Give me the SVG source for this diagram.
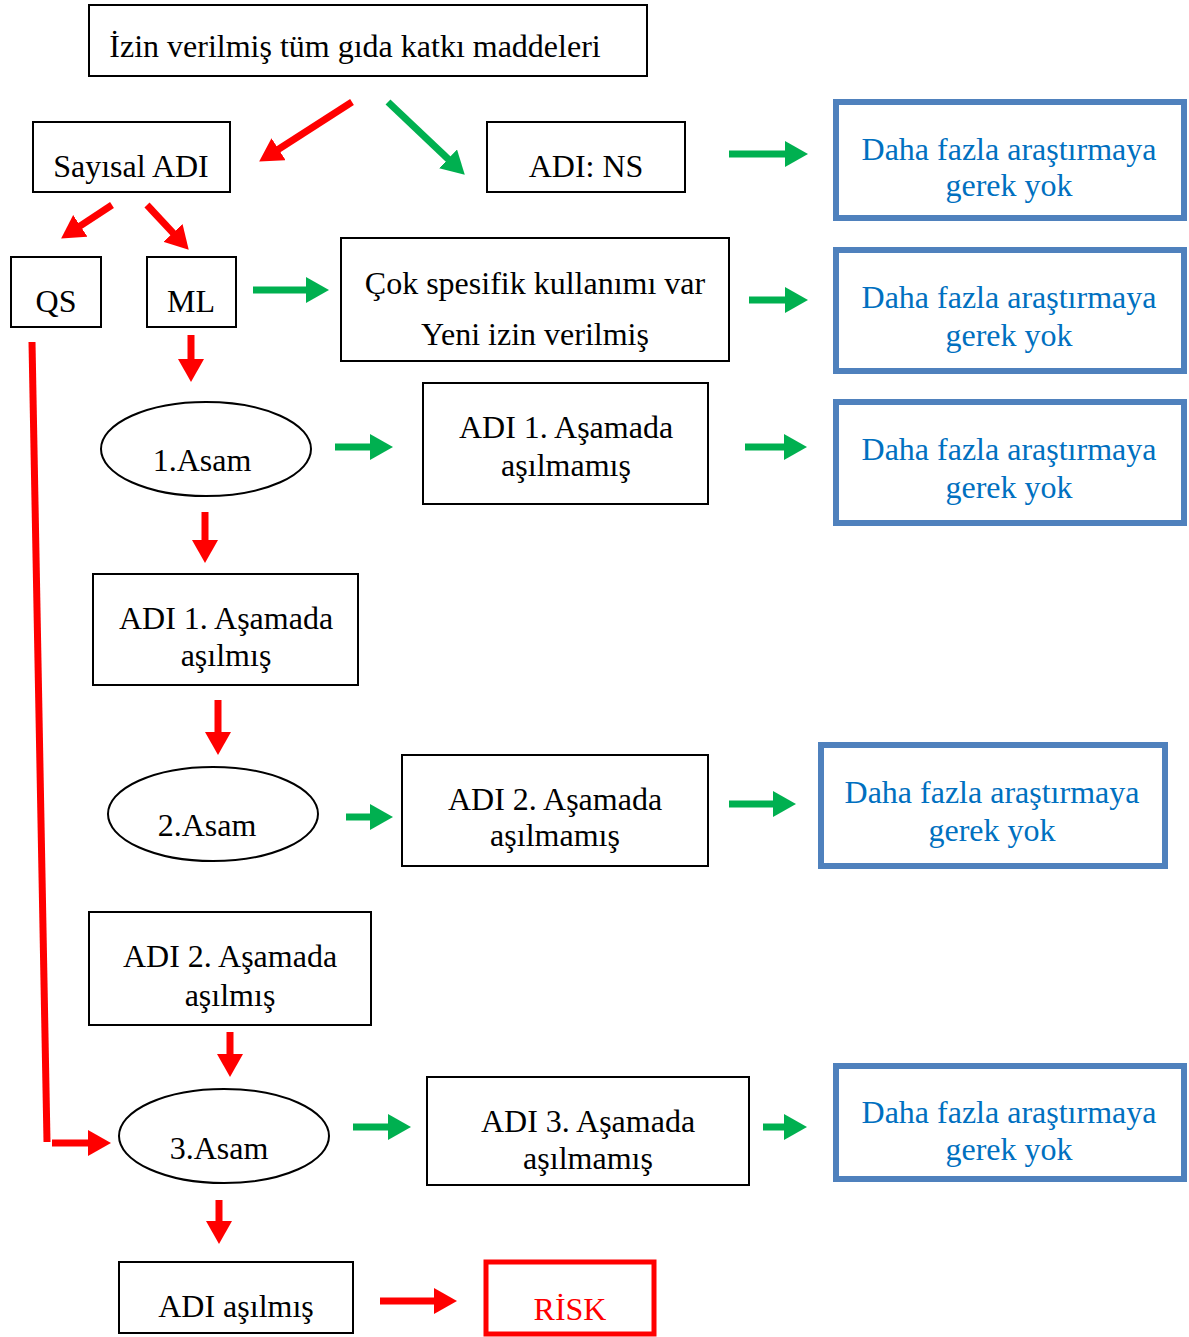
<svg xmlns="http://www.w3.org/2000/svg" width="1189" height="1337" viewBox="0 0 1189 1337">
<style>
text{font-family:"Liberation Serif","Times New Roman",serif;font-size:32px;fill:#000;text-anchor:middle}
.box{fill:#fff;stroke:#000;stroke-width:2}
.blue{fill:#fff;stroke:#4F81BD;stroke-width:6}
.bt{fill:#0070C0}
.red{stroke:#FF0000;stroke-width:7;fill:none}
.grn{stroke:#00B050;stroke-width:7;fill:none}
</style>
<defs>
<marker id="hr" markerUnits="userSpaceOnUse" markerWidth="24" markerHeight="26" refX="1" refY="13" orient="auto"><path d="M0,0 L23,13 L0,26 z" fill="#FF0000"/></marker>
<marker id="hg" markerUnits="userSpaceOnUse" markerWidth="24" markerHeight="26" refX="1" refY="13" orient="auto"><path d="M0,0 L23,13 L0,26 z" fill="#00B050"/></marker>
</defs>
<rect width="1189" height="1337" fill="#fff"/>
<g id="top"><rect class="box" x="89" y="5" width="558" height="71"/><text x="355" y="57">İzin verilmiş tüm gıda katkı maddeleri</text></g>
<g id="sayisal"><rect class="box" x="33" y="122" width="197" height="70"/><text x="131" y="177">Sayısal ADI</text></g>
<g id="adins"><rect class="box" x="487" y="122" width="198" height="70"/><text x="586" y="177">ADI: NS</text></g>
<g id="qs"><rect class="box" x="11" y="257" width="90" height="70"/><text x="56" y="312">QS</text></g>
<g id="ml"><rect class="box" x="147" y="257" width="89" height="70"/><text x="191" y="312">ML</text></g>
<g id="cok"><rect class="box" x="341" y="238" width="388" height="123"/><text x="535" y="294">Çok spesifik kullanımı var</text><text x="535" y="345">Yeni izin verilmiş</text></g>
<g id="asam1"><ellipse class="box" cx="206" cy="449" rx="105" ry="47"/><text x="202" y="471">1.Asam</text></g>
<g id="adi1n"><rect class="box" x="423" y="383" width="285" height="121"/><text x="566" y="438">ADI 1. Aşamada</text><text x="566" y="476">aşılmamış</text></g>
<g id="adi1a"><rect class="box" x="93" y="574" width="265" height="111"/><text x="226" y="629">ADI 1. Aşamada</text><text x="226" y="666">aşılmış</text></g>
<g id="asam2"><ellipse class="box" cx="213" cy="814" rx="105" ry="47"/><text x="207" y="836">2.Asam</text></g>
<g id="adi2n"><rect class="box" x="402" y="755" width="306" height="111"/><text x="555" y="810">ADI 2. Aşamada</text><text x="555" y="846">aşılmamış</text></g>
<g id="adi2a"><rect class="box" x="89" y="912" width="282" height="113"/><text x="230" y="967">ADI 2. Aşamada</text><text x="230" y="1006">aşılmış</text></g>
<g id="asam3"><ellipse class="box" cx="224" cy="1136" rx="105" ry="47"/><text x="219" y="1159">3.Asam</text></g>
<g id="adi3n"><rect class="box" x="427" y="1077" width="322" height="108"/><text x="588" y="1132">ADI 3. Aşamada</text><text x="588" y="1169">aşılmamış</text></g>
<g id="adia"><rect class="box" x="119" y="1262" width="234" height="71"/><text x="236" y="1317">ADI aşılmış</text></g>
<g id="risk"><rect x="486" y="1262" width="168" height="72" fill="#fff" stroke="#FF0000" stroke-width="5"/><text x="570" y="1320" style="fill:#FF0000">RİSK</text></g>
<g id="blue1"><rect class="blue" x="836" y="102" width="348" height="116"/><text class="bt" x="1009" y="160">Daha fazla araştırmaya</text><text class="bt" x="1009" y="196">gerek yok</text></g>
<g id="blue2"><rect class="blue" x="836" y="250" width="348" height="121"/><text class="bt" x="1009" y="308">Daha fazla araştırmaya</text><text class="bt" x="1009" y="346">gerek yok</text></g>
<g id="blue3"><rect class="blue" x="836" y="402" width="348" height="121"/><text class="bt" x="1009" y="460">Daha fazla araştırmaya</text><text class="bt" x="1009" y="498">gerek yok</text></g>
<g id="blue4"><rect class="blue" x="821" y="745" width="344" height="121"/><text class="bt" x="992" y="803">Daha fazla araştırmaya</text><text class="bt" x="992" y="841">gerek yok</text></g>
<g id="blue5"><rect class="blue" x="836" y="1066" width="348" height="113"/><text class="bt" x="1009" y="1123">Daha fazla araştırmaya</text><text class="bt" x="1009" y="1160">gerek yok</text></g>
<g id="connectors">
<path class="red" d="M352,102 L277.7,149.7" marker-end="url(#hr)"/>
<path class="grn" d="M388,102 L448.8,159.6" marker-end="url(#hg)"/>
<path class="red" d="M112,205 L79.5,226.4" marker-end="url(#hr)"/>
<path class="red" d="M147,205 L173.7,233.6" marker-end="url(#hr)"/>
<path class="grn" d="M253,290 L307,290" marker-end="url(#hg)"/>
<path class="grn" d="M729,154 L786,154" marker-end="url(#hg)"/>
<path class="grn" d="M749,300 L786,300" marker-end="url(#hg)"/>
<path class="red" d="M191,335 L191,360" marker-end="url(#hr)"/>
<path class="grn" d="M335,447 L371,447" marker-end="url(#hg)"/>
<path class="grn" d="M745,447 L785,447" marker-end="url(#hg)"/>
<path class="red" d="M205,512 L205,541" marker-end="url(#hr)"/>
<path class="red" d="M218,700 L218,733" marker-end="url(#hr)"/>
<path class="grn" d="M346,817 L371,817" marker-end="url(#hg)"/>
<path class="grn" d="M729,804 L774,804" marker-end="url(#hg)"/>
<path class="red" d="M230,1032 L230,1055" marker-end="url(#hr)"/>
<path class="red" d="M32,342 L47,1142"/>
<path class="red" d="M52,1143 L89,1143" marker-end="url(#hr)"/>
<path class="grn" d="M353,1127 L389,1127" marker-end="url(#hg)"/>
<path class="grn" d="M763,1127 L785,1127" marker-end="url(#hg)"/>
<path class="red" d="M219,1200 L219,1222" marker-end="url(#hr)"/>
<path class="red" d="M380,1301 L435,1301" marker-end="url(#hr)"/>
</g>
</svg>
